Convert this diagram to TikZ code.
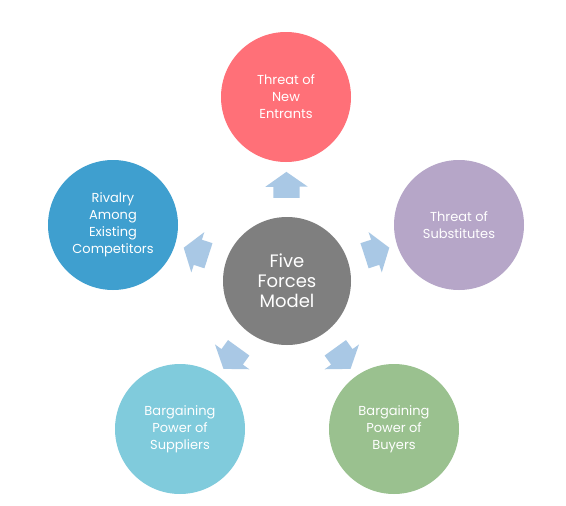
\documentclass[tikz,border=0pt]{standalone}
\usepackage{fontspec}
\setmainfont{Poppins}
\usetikzlibrary{shapes.arrows}
\definecolor{cred}{HTML}{FF7078}
\definecolor{cpurple}{HTML}{B6A6C8}
\definecolor{cblue}{HTML}{3F9FCF}
\definecolor{clight}{HTML}{80CBDC}
\definecolor{cgreen}{HTML}{9AC18F}
\definecolor{cgray}{HTML}{7F7F7F}
\definecolor{carrow}{HTML}{A9C8E5}
\begin{document}
\begin{tikzpicture}[x=1pt,y=-1pt,
  force/.style={circle,minimum size=130pt,inner sep=0pt,text=white,align=center,
    font=\fontsize{13}{17}\selectfont},
  core/.style={circle,minimum size=128pt,inner sep=0pt,fill=cgray,text=white,align=center,
    font=\fontsize{18}{20}\selectfont},
  blockarrow/.style={single arrow,fill=carrow,draw=none,inner xsep=0pt,inner ysep=13pt,
    single arrow head extend=8pt,single arrow tip angle=110,minimum height=26pt,
    sloped,allow upside down,pos=0.5}]
\useasboundingbox (0,0) rectangle (566,506);
\fill[white] (0,0) rectangle (566,506);
\node[core] (c) at (287,281) {Five\\Forces\\Model};
\node[force,fill=cred] (t) at (286,97) {Threat of\\New\\Entrants};
\node[force,fill=cpurple] (r) at (459,225) {Threat of\\Substitutes};
\node[force,fill=cblue] (l) at (113,225) {Rivalry\\Among\\Existing\\Competitors};
\node[force,fill=clight] (bl) at (180,429) {Bargaining\\Power of\\Suppliers};
\node[force,fill=cgreen] (br) at (394,429) {Bargaining\\Power of\\Buyers};
\path (c) -- (t) node[blockarrow] (at) {};
\path (c) -- (r) node[blockarrow] (ar) {};
\path (c) -- (l) node[blockarrow] (al) {};
\path (c) -- (bl) node[blockarrow] (abl) {};
\path (c) -- (br) node[blockarrow] (abr) {};
\end{tikzpicture}
\end{document}
